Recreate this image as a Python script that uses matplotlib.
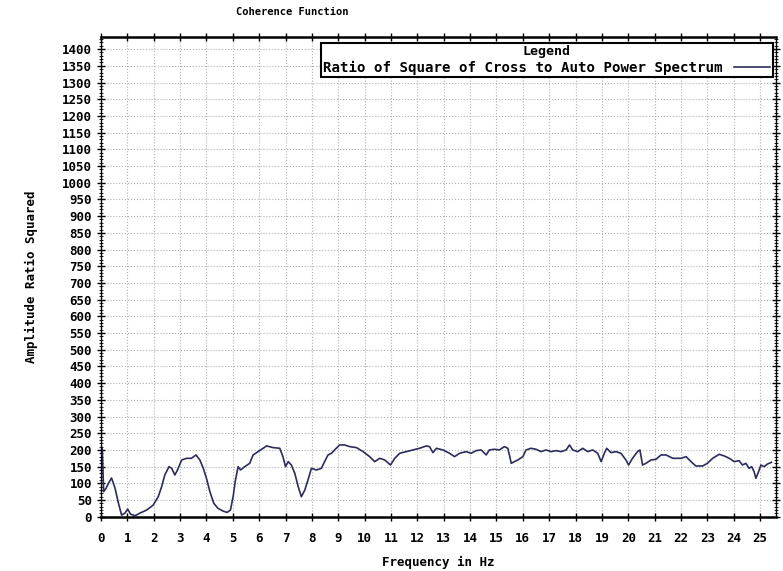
import matplotlib
matplotlib.use("Agg")
import matplotlib.pyplot as plt
from matplotlib.ticker import MultipleLocator

# Coherence function
freq_hz = [
    0.0, 0.05, 0.1, 0.19, 0.28, 0.4, 0.53, 0.66, 0.78, 0.91, 1.01, 1.12, 1.29,
    1.48, 1.73, 1.98, 2.17, 2.3, 2.42, 2.58, 2.68, 2.8, 2.9, 3.06, 3.25, 3.43,
    3.6, 3.75, 3.88, 4.0, 4.13, 4.28, 4.44, 4.63, 4.78, 4.91, 5.01, 5.1, 5.2,
    5.29, 5.45, 5.64, 5.77, 5.96, 6.15, 6.28, 6.53, 6.78, 6.9, 7.0, 7.1, 7.22,
    7.35, 7.48, 7.6, 7.73, 7.85, 7.98, 8.17, 8.36, 8.48, 8.61, 8.74, 8.86,
    9.05, 9.24, 9.43, 9.69, 9.94, 10.19, 10.38, 10.57, 10.76, 10.98, 11.14,
    11.33, 11.58, 11.83, 12.08, 12.34, 12.46, 12.59, 12.72, 12.97, 13.22,
    13.41, 13.6, 13.85, 14.04, 14.23, 14.42, 14.61, 14.73, 14.92, 15.11, 15.3,
    15.43, 15.49, 15.56, 15.68, 15.81, 16.0, 16.12, 16.31, 16.5, 16.69, 16.88,
    17.07, 17.26, 17.45, 17.64, 17.77, 17.89, 18.08, 18.27, 18.46, 18.65,
    18.84, 18.97, 19.09, 19.18, 19.34, 19.53, 19.72, 19.91, 20.01, 20.16,
    20.35, 20.44, 20.54, 20.67, 20.86, 21.05, 21.24, 21.43, 21.69, 22.0,
    22.19, 22.38, 22.56, 22.82, 23.0, 23.2, 23.45, 23.64, 23.83, 24.02, 24.2,
    24.33, 24.46, 24.58, 24.68, 24.77, 24.84, 24.94, 25.03, 25.15, 25.28, 25.43,
]
amp_ratio_sq = [
    215, 200, 75, 85, 100, 116, 86, 41, 5, 11, 23, 8, 3,
    11, 20, 35, 60, 90, 125, 150, 145, 125, 140, 170, 175, 175,
    185, 170, 145, 115, 75, 40, 25, 17, 13, 20, 60, 110, 150,
    140, 150, 160, 185, 195, 205, 212, 207, 205, 180, 150, 165, 155,
    130, 90, 60, 80, 110, 145, 140, 145, 165, 185, 190, 200,
    215, 215, 210, 207, 195, 180, 165, 175, 170, 155, 175,
    190, 195, 200, 205, 212, 210, 192, 205, 200, 190,
    180, 190, 195, 190, 198, 200, 185, 200, 202, 200, 210,
    205, 185, 160, 165, 170, 180, 200, 205, 202, 195, 200,
    195, 198, 195, 200, 215, 200, 195, 205, 195, 200,
    190, 165, 190, 205, 192, 195, 190, 170, 155, 175,
    195, 200, 155, 160, 170, 172, 185, 185, 175, 175,
    180, 165, 152, 152, 160, 175, 187, 182, 175, 165, 168,
    155, 160, 145, 150, 135, 115, 135, 155, 150, 158, 163,
]

x_ticks = list(range(0, 26))
y_ticks = list(range(0, 1401, 50))

MONO = "DejaVu Sans Mono"

fig = plt.figure(figsize=(7.83, 5.71), dpi=100)
ax = fig.add_axes([0.129, 0.095, 0.862, 0.840])

ax.plot(freq_hz, amp_ratio_sq, color="#2b2d5c", lw=1.2,
        label="Ratio of Square of Cross to Auto Power Spectrum")

ax.set_xlim(0, 25.6)
ax.set_ylim(0, 1436)
ax.set_xticks(x_ticks)
ax.set_yticks(y_ticks)
ax.yaxis.set_minor_locator(MultipleLocator(10))
ax.grid(True, which="major", linestyle=":", color="#b0b0b0", lw=0.8)

ax.tick_params(axis="both", which="major", direction="inout", length=6,
               width=1, top=True, right=True, labelsize=9)
ax.tick_params(axis="y", which="minor", direction="inout", length=3,
               width=0.6, right=True)
for lbl in ax.get_xticklabels() + ax.get_yticklabels():
    lbl.set_family(MONO)
    lbl.set_weight("bold")
ax.tick_params(axis="x", pad=8)

for side in ["top", "bottom"]:
    ax.spines[side].set_linewidth(1.8)
for side in ["left", "right"]:
    ax.spines[side].set_linewidth(1.0)

ax.set_xlabel("Frequency in Hz", family=MONO, weight="bold", fontsize=9,
              labelpad=8)
ax.set_ylabel("Amplitude Ratio Squared", family=MONO, weight="bold",
              fontsize=9, labelpad=17)

fig.text(292 / 783, 1 - 12 / 571, "Coherence Function", family=MONO,
         weight="bold", fontsize=7.5, ha="center", va="center")

leg = ax.legend(loc="upper right", bbox_to_anchor=(0.995, 0.988),
                title="Legend", markerfirst=False, fancybox=False,
                framealpha=1, edgecolor="black", borderpad=0.15,
                handlelength=2.6, borderaxespad=0, labelspacing=0.2,
                prop={"family": MONO, "weight": "bold", "size": 10.2})
leg.get_title().set_family(MONO)
leg.get_title().set_weight("bold")
leg.get_title().set_fontsize(9.5)
leg.get_frame().set_linewidth(1.5)

fig.savefig("out.png", dpi=100)
